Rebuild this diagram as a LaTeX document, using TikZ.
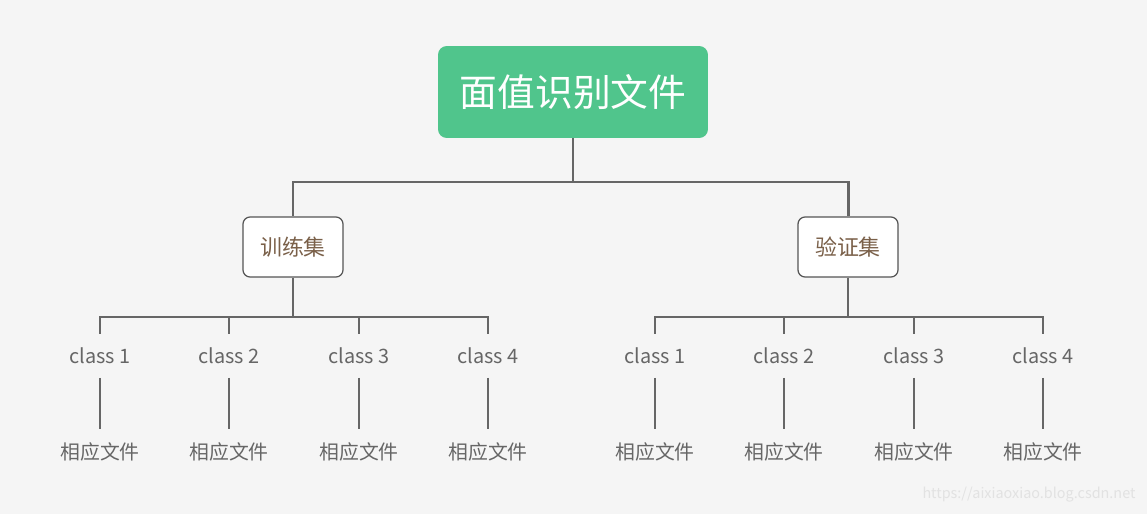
\documentclass[tikz,border=0pt]{standalone}
\usepackage{fontspec}
\setmainfont{Noto Sans CJK SC}
\usepackage{xcolor}
\usepackage{tikz}
\usetikzlibrary{positioning}

\definecolor{bggray}{HTML}{F5F5F5}
\definecolor{rootgreen}{HTML}{50C58C}
\definecolor{linegray}{HTML}{666666}
\definecolor{boxedge}{HTML}{555555}
\definecolor{setbrown}{HTML}{7A6049}
\definecolor{textgray}{HTML}{666666}
\definecolor{markgray}{HTML}{E2E2E2}

\begin{document}
\begin{tikzpicture}[
    x=0.02cm, y=-0.02cm,
    rootbox/.style={rectangle, rounded corners=5pt, fill=rootgreen, text=white, minimum width=5.4cm, minimum height=1.84cm, font=\fontsize{21.5}{24}\selectfont},
    setbox/.style={rectangle, draw=boxedge, line width=0.7pt, rounded corners=4pt, fill=white, text=setbrown, minimum width=2cm, minimum height=1.2cm, font=\fontsize{12.5}{14}\selectfont},
    classlabel/.style={text=textgray, minimum height=0.86cm, inner sep=0pt, font=\fontsize{11.3}{13}\selectfont},
    filelabel/.style={text=textgray, minimum height=0.92cm, inner sep=0pt, font=\fontsize{11.3}{13}\selectfont},
    trunk/.style={draw=linegray, line width=1.7pt},
    branch/.style={draw=linegray, line width=0.8pt}
]
\fill[bggray] (0,0) rectangle (1147,514);
\useasboundingbox (0,0) rectangle (1147,514);

\node[rootbox] (root) at (573,92) {面值识别文件};
\node[setbox] (train) at (293,247) {训练集};
\node[setbox] (val) at (848,247) {验证集};

\coordinate (split) at (573,182);
\draw[trunk] (root) -- (split);
\draw[trunk] (split) -| (train);
\draw[trunk] (split) -| (val);

% training classes
\coordinate (tsplit) at (293,317);
\draw[branch] (train) -- (tsplit);
\foreach \i/\x in {1/100, 2/229, 3/359, 4/488} {
    \node[classlabel] (tc\i) at (\x,356) {class \i};
    \node[filelabel] (tf\i) at (\x,452) {相应文件};
    \draw[branch] (tsplit) -| (tc\i);
    \draw[branch] (tc\i) -- (tf\i);
}

% validation classes
\coordinate (vsplit) at (848,317);
\draw[branch] (val) -- (vsplit);
\foreach \i/\x in {1/655, 2/784, 3/914, 4/1043} {
    \node[classlabel] (vc\i) at (\x,356) {class \i};
    \node[filelabel] (vf\i) at (\x,452) {相应文件};
    \draw[branch] (vsplit) -| (vc\i);
    \draw[branch] (vc\i) -- (vf\i);
}

\node[text=markgray, font=\fontsize{8.2}{10}\selectfont] (mark) at (1029,495) {https://aixiaoxiao.blog.csdn.net};
\end{tikzpicture}
\end{document}
